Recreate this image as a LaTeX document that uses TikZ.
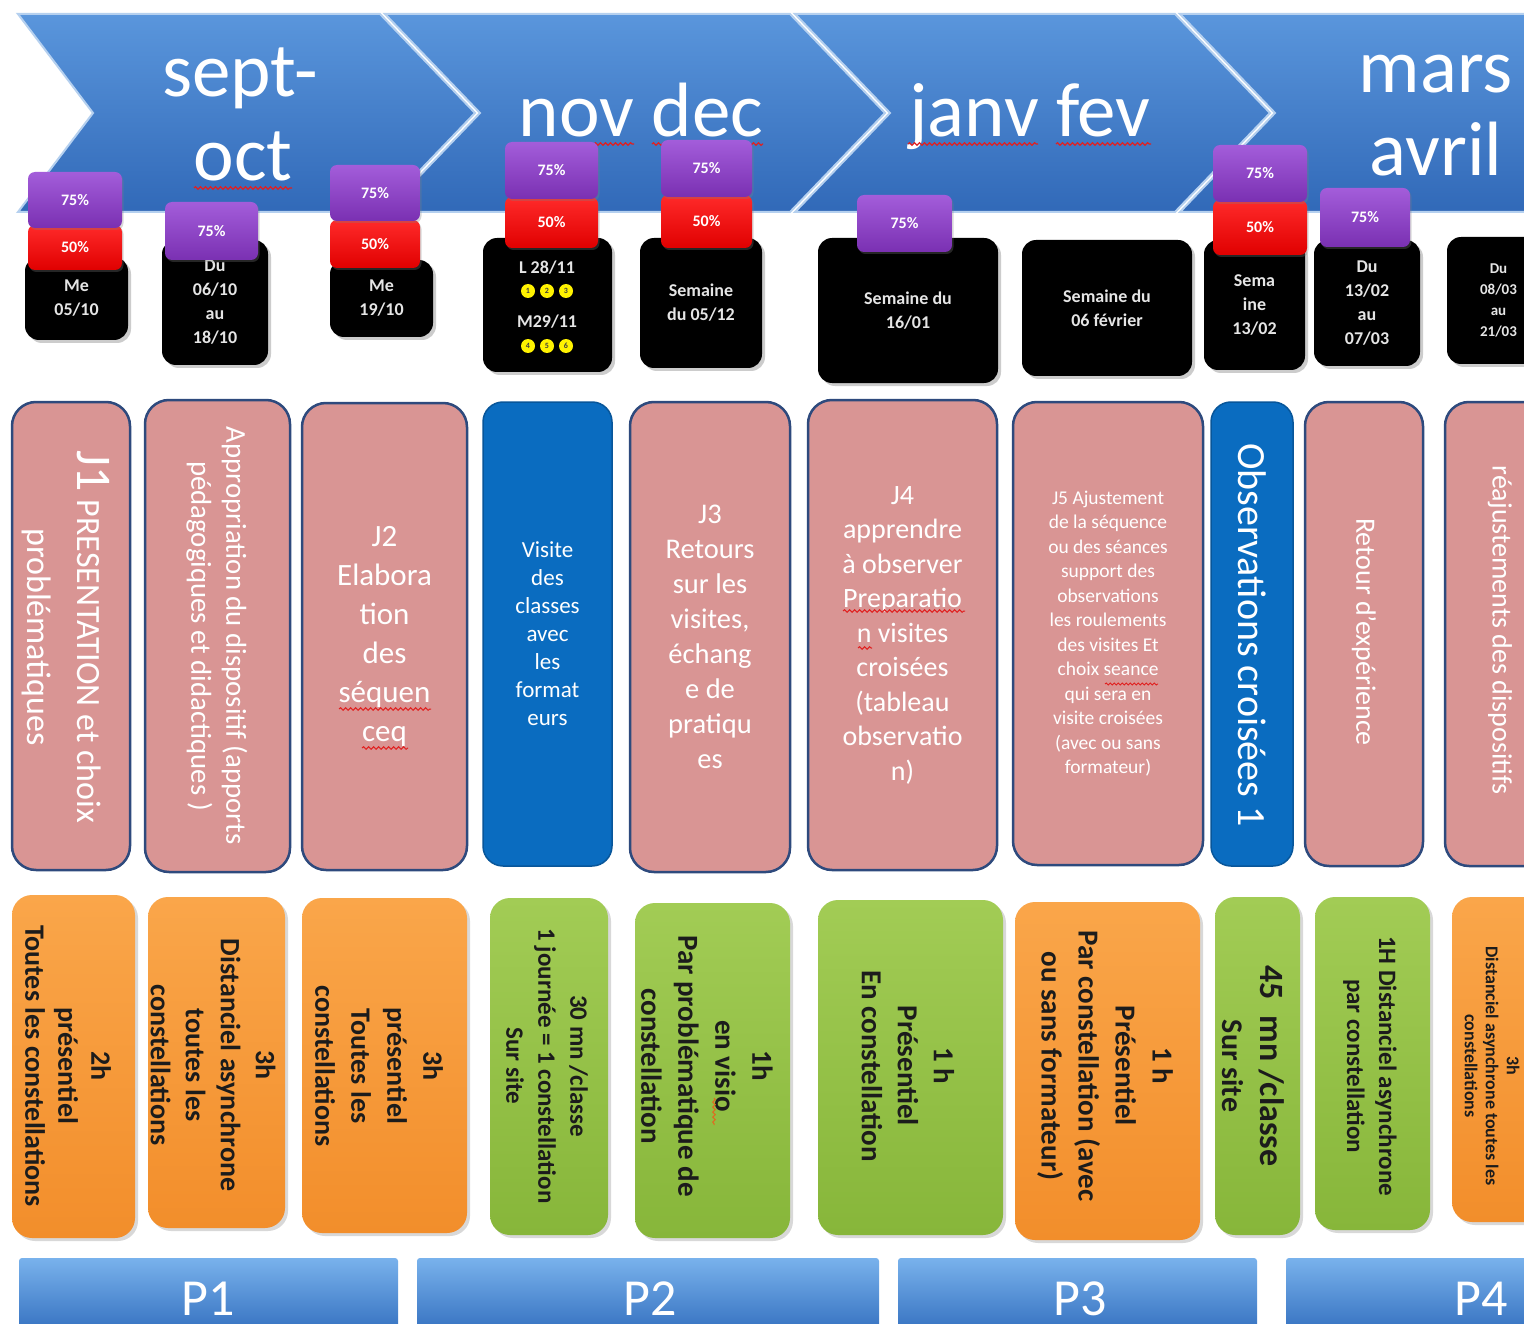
\documentclass[tikz,border=0pt]{standalone}
\usepackage{fontspec}
\setmainfont{Carlito}
\usetikzlibrary{shadows,decorations.pathmorphing}
\definecolor{bandtop}{HTML}{5A96DC}
\definecolor{bandbot}{HTML}{3169B8}
\definecolor{pinkc}{HTML}{D99594}
\definecolor{pinkbd}{HTML}{2E4A7D}
\definecolor{bluec}{HTML}{0A6CC0}
\definecolor{purtop}{HTML}{A35DDA}
\definecolor{purbot}{HTML}{7A30B2}
\definecolor{redtop}{HTML}{FF2A2A}
\definecolor{redbot}{HTML}{E00000}
\definecolor{orgtop}{HTML}{FAA64A}
\definecolor{orgbot}{HTML}{F28E2B}
\definecolor{grntop}{HTML}{A2CC55}
\definecolor{grnbot}{HTML}{87B63A}
\definecolor{darktxt}{HTML}{1C1C1C}
\definecolor{ptop}{HTML}{79B2EC}
\definecolor{pbot}{HTML}{3571C0}
\definecolor{wavec}{HTML}{E02020}
\definecolor{waveo}{HTML}{E06A20}
\newcommand\boxat[7]{\node[#1, minimum width={(#5-#3)*1pt}, minimum height={(#6-#4)*1pt}] (#2) at ({(#3+#5)/2},{(#4+#6)/2}) {#7};}
\begin{document}
\begin{tikzpicture}[x=1pt,y=-1pt,
  every node/.style={inner sep=0pt, outer sep=0pt},
  chev/.style={top color=bandtop, bottom color=bandbot, draw=white!55!bandtop, line width=2pt},
  month/.style={text=white, font=\fontsize{77}{82}\selectfont},
  wav/.style={wavec, line width=1.2pt, decorate, decoration={snake, amplitude=1.3pt, segment length=5pt}},
  pct/.style={rounded corners=7pt, text=white, font=\bfseries\fontsize{16}{18}\selectfont,
    drop shadow={opacity=0.3, shadow xshift=1.5pt, shadow yshift=-2pt}},
  purp/.style={pct, top color=purtop, bottom color=purbot},
  redb/.style={pct, top color=redtop, bottom color=redbot},
  blk/.style={fill=black, rounded corners=14pt, text=white!90!black, align=center,
    font=\bfseries\fontsize{18}{24}\selectfont,
    drop shadow={opacity=0.4, shadow xshift=3pt, shadow yshift=-3pt}},
  pinkbox/.style={fill=pinkc, draw=pinkbd, line width=2.5pt, rounded corners=24pt},
  bluebox/.style={fill=bluec, draw=bluec!80!black, line width=1.5pt, rounded corners=20pt},
  ptxt/.style={text=white, align=center},
  obox/.style={top color=orgtop, bottom color=orgbot, rounded corners=20pt,
    drop shadow={opacity=0.3, shadow xshift=3pt, shadow yshift=-3pt}},
  gbox/.style={top color=grntop, bottom color=grnbot, rounded corners=20pt,
    drop shadow={opacity=0.3, shadow xshift=3pt, shadow yshift=-3pt}},
  btxt/.style={text=darktxt, align=center, rotate=-90},
  pbar/.style={top color=ptop, bottom color=pbot, rounded corners=3pt},
  ptitle/.style={text=white, font=\fontsize{52}{56}\selectfont},
  ycirc/.style={circle, fill=yellow, minimum size=14pt, text=black!75, font=\bfseries\fontsize{8}{8}\selectfont}
]
\useasboundingbox (0,0) rectangle (1524,1324);
\clip (0,0) rectangle (1524,1324);
\fill[white] (0,0) rectangle (1524,1324);

% ---- chevron banner
\path[chev] (18,14) -- (380,14) -- (475,113) -- (380,212) -- (18,212) -- (93,113) -- cycle;
\path[chev] (385,14) -- (790,14) -- (885,113) -- (790,212) -- (385,212) -- (480,113) -- cycle;
\path[chev] (795,14) -- (1175,14) -- (1270,113) -- (1175,212) -- (795,212) -- (890,113) -- cycle;
\path[chev] (1180,14) -- (1620,14) -- (1715,113) -- (1620,212) -- (1180,212) -- (1275,113) -- cycle;

\node[month, anchor=base] (m1a) at (240,97) {sept-};
\node[month, anchor=base] (m1b) at (243,181) {oct};
\node[month, anchor=base] (m2) at (641,137) {nov dec};
\node[month, anchor=base] (m3) at (1030,137) {janv fev};
\node[month, anchor=base] (m4a) at (1436,93) {mars};
\node[month, anchor=base] (m4b) at (1436,176) {avril};
\draw[wav] (194,188) -- (292,188);
\draw[wav] (519,144) -- (634,144);
\draw[wav] (652,144) -- (763,144);
\draw[wav] (908,144) -- (1038,144);
\draw[wav] (1056,144) -- (1151,144);

% ---- date boxes
\boxat{blk}{b1}{25}{257}{128}{340}{Me\\05/10}
\boxat{blk}{b2}{162}{240}{268}{365}{Du\\06/10\\au\\18/10}
\boxat{blk}{b3}{330}{260}{433}{337}{Me\\19/10}
\boxat{blk}{b4}{483}{238}{612}{372}{}
\node[text=white!90!black, font=\bfseries\fontsize{18}{24}\selectfont] (b4a) at (547,268) {L 28/11};
\node[text=white!90!black, font=\bfseries\fontsize{18}{24}\selectfont] (b4b) at (547,322) {M29/11};
\node[ycirc] (c1) at (528,291) {1};
\node[ycirc] (c2) at (547,291) {2};
\node[ycirc] (c3) at (566,291) {3};
\node[ycirc] (c4) at (528,346) {4};
\node[ycirc] (c5) at (547,346) {5};
\node[ycirc] (c6) at (566,346) {6};
\boxat{blk}{b5}{640}{238}{762}{368}{Semaine\\du 05/12}
\boxat{blk}{b6}{818}{238}{998}{383}{Semaine du\\16/01}
\boxat{blk}{b7}{1022}{240}{1192}{376}{Semaine du\\06 février}
\boxat{blk}{b8}{1204}{240}{1305}{370}{Sema\\ine\\13/02}
\boxat{blk}{b9}{1314}{240}{1420}{366}{Du\\13/02\\au\\07/03}
\boxat{blk, font=\bfseries\fontsize{15}{21}\selectfont}{b10}{1447}{237}{1550}{364}{Du\\08/03\\au\\21/03}

% ---- percentage tabs
\boxat{redb}{r1}{28}{225}{122}{270}{50\%}
\boxat{redb}{r3}{330}{220}{420}{268}{50\%}
\boxat{redb}{r4}{505}{197}{598}{248}{50\%}
\boxat{redb}{r5}{661}{195}{752}{248}{50\%}
\boxat{redb}{r8}{1213}{200}{1307}{255}{50\%}
\boxat{purp}{u1}{28}{172}{122}{228}{75\%}
\boxat{purp}{u2}{165}{202}{258}{260}{75\%}
\boxat{purp}{u3}{330}{165}{420}{221}{75\%}
\boxat{purp}{u4}{505}{142}{598}{199}{75\%}
\boxat{purp}{u5}{661}{140}{752}{197}{75\%}
\boxat{purp}{u6}{857}{195}{952}{252}{75\%}
\boxat{purp}{u8}{1213}{145}{1307}{202}{75\%}
\boxat{purp}{u9}{1320}{188}{1410}{247}{75\%}

% ---- middle row
\boxat{pinkbox}{k1}{12}{402}{130}{870}{}
\node[ptxt, rotate=-90, font=\fontsize{34}{50}\selectfont] (k1t) at (66,637) {{\fontsize{50}{50}\selectfont J1} PRESENTATION et choix\\problématiques};
\boxat{pinkbox}{k2}{145}{400}{290}{872}{}
\node[ptxt, rotate=-90, font=\fontsize{28.8}{35}\selectfont] (k2t) at (217,636) {Appropriation du dispositif (apports\\pédagogiques et didactiques )};
\boxat{pinkbox, ptxt, font=\fontsize{31}{39}\selectfont}{k3}{302}{403}{467}{870}{J2\\Elabora\\tion\\des\\séquen\\ceq}
\boxat{bluebox, ptxt, font=\fontsize{23}{28}\selectfont}{k4}{483}{402}{612}{866}{Visite\\des\\classes\\avec\\les\\format\\eurs}
\boxat{pinkbox, ptxt, font=\fontsize{28.5}{35}\selectfont}{k5}{630}{402}{790}{872}{J3\\Retours\\sur les\\visites,\\échang\\e de\\pratiqu\\es}
\boxat{pinkbox, ptxt, font=\fontsize{28}{34.5}\selectfont}{k6}{808}{400}{997}{870}{J4\\apprendre\\à observer\\Preparatio\\n visites\\croisées\\(tableau\\observatio\\n)}
\boxat{pinkbox, ptxt, font=\fontsize{19.5}{24.5}\selectfont}{k7}{1013}{402}{1203}{865}{J5 Ajustement\\de la séquence\\ou des séances\\support des\\observations\\les roulements\\des visites Et\\choix seance\\qui sera en\\visite croisées\\(avec ou sans\\formateur)}
\boxat{bluebox}{k8}{1211}{402}{1293}{866}{}
\node[ptxt, rotate=-90, font=\fontsize{40}{44}\selectfont] (k8t) at (1252,635) {Observations croisées 1};
\boxat{pinkbox}{k9}{1305}{402}{1423}{866}{}
\node[ptxt, rotate=-90, font=\fontsize{28}{32}\selectfont] (k9t) at (1364,632) {Retour d'expérience};
\boxat{pinkbox}{k10}{1445}{402}{1560}{866}{}
\node[ptxt, rotate=-90, font=\fontsize{28}{32}\selectfont] (k10t) at (1500,630) {réajustements des dispositifs};
\draw[wav, line width=1pt] (339,709) -- (431,709);
\draw[wav, line width=1pt] (362,748) -- (408,748);
\draw[wav, line width=1pt] (843,611) -- (965,611);
\draw[wav, line width=1pt] (858,648) -- (872,648);
\draw[wav, line width=0.9pt, decoration={snake, amplitude=1pt, segment length=4pt}] (1105,684) -- (1158,684);

% ---- bottom row
\boxat{obox}{o1}{12}{895}{135}{1238}{}
\node[btxt, font=\bfseries\fontsize{28}{33}\selectfont] (o1t) at (68,1066) {2h\\présentiel\\Toutes les constellations};
\boxat{obox}{o2}{148}{897}{285}{1228}{}
\node[btxt, font=\bfseries\fontsize{28}{35}\selectfont] (o2t) at (213,1065) {3h\\Distanciel asynchrone\\toutes les\\constellations};
\boxat{obox}{o3}{302}{898}{467}{1233}{}
\node[btxt, font=\bfseries\fontsize{28}{36}\selectfont] (o3t) at (379,1066) {3h\\présentiel\\Toutes les\\constellations};
\boxat{gbox}{g4}{490}{898}{608}{1235}{}
\node[btxt, font=\bfseries\fontsize{25}{32}\selectfont] (g4t) at (547,1066) {30 mn /classe\\1 journée = 1 constellation\\Sur site};
\boxat{gbox}{g5}{635}{903}{790}{1238}{}
\node[btxt, font=\bfseries\fontsize{29}{37}\selectfont] (g5t) at (707,1066) {1h\\en visio\\Par problématique de\\constellation};
\draw[wav, waveo, line width=1pt] (714,1098) -- (714,1125);
\boxat{gbox}{g6}{818}{900}{1003}{1235}{}
\node[btxt, font=\bfseries\fontsize{29}{36}\selectfont] (g6t) at (908,1066) {1 h\\Présentiel\\En constellation};
\boxat{obox}{o7}{1015}{902}{1200}{1240}{}
\node[btxt, font=\bfseries\fontsize{29}{37}\selectfont] (o7t) at (1105,1066) {1 h\\Présentiel\\Par constellation (avec\\ou sans formateur)};
\boxat{gbox}{g8}{1215}{897}{1300}{1235}{}
\node[btxt, font=\bfseries\fontsize{30}{38}\selectfont] (g8t) at (1253,1066) {{\fontsize{34}{38}\selectfont 45\ \ mn /classe}\\Sur site};
\boxat{gbox}{g9}{1315}{897}{1430}{1230}{}
\node[btxt, font=\bfseries\fontsize{25}{32}\selectfont] (g9t) at (1370,1066) {1H Distanciel asynchrone\\par constellation};
\boxat{obox}{o10}{1452}{897}{1560}{1222}{}
\node[btxt, font=\bfseries\fontsize{18}{21}\selectfont] (o10t) at (1492,1066) {3h\\Distanciel asynchrone toutes les\\constellations};

% ---- period bars
\boxat{pbar}{pb1}{19}{1258}{398}{1332}{}
\boxat{pbar}{pb2}{417}{1258}{879}{1332}{}
\boxat{pbar}{pb3}{898}{1258}{1257}{1332}{}
\boxat{pbar}{pb4}{1286}{1258}{1600}{1332}{}
\node[ptitle, anchor=base] (pt1) at (208,1315) {P1};
\node[ptitle, anchor=base] (pt2) at (650,1315) {P2};
\node[ptitle, anchor=base] (pt3) at (1080,1315) {P3};
\node[ptitle, anchor=base] (pt4) at (1481,1315) {P4};
\end{tikzpicture}
\end{document}
